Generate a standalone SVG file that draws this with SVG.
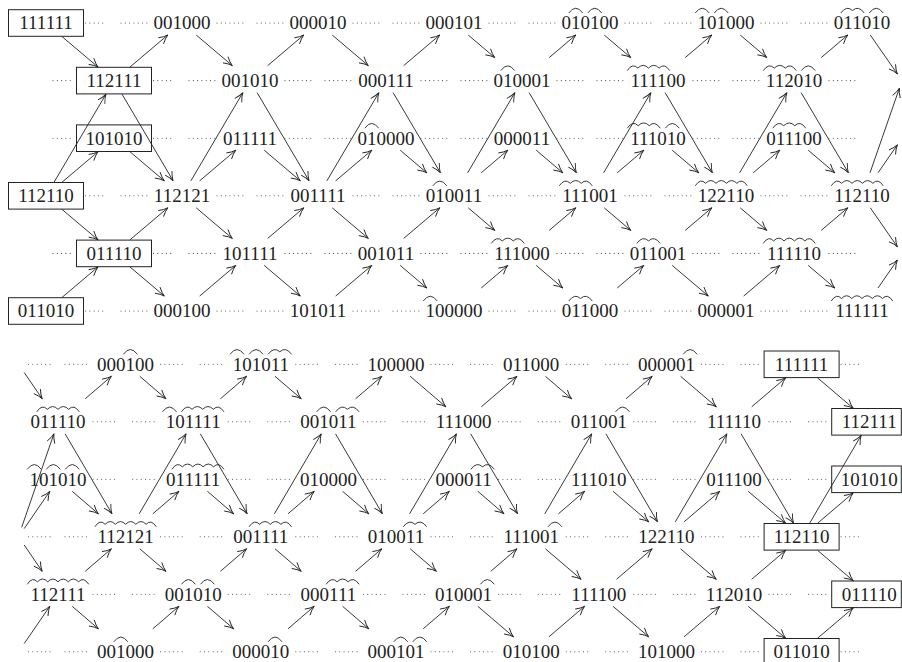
<svg xmlns="http://www.w3.org/2000/svg" width="902" height="662" viewBox="0 0 902 662">
<style>
.lbl{font-family:"Liberation Serif","Times New Roman",serif;font-size:19px;fill:#222;text-anchor:middle}
.box{fill:none;stroke:#222;stroke-width:1}
.ar{fill:none;stroke:#222;stroke-width:0.9;marker-end:url(#ah)}
.dot{fill:none;stroke:#444;stroke-width:1.1;stroke-linecap:round;stroke-dasharray:0.01 4.3}
</style>
<defs>
<marker id="ah" viewBox="-11 -6 12 12" refX="0" refY="0" markerWidth="12" markerHeight="12" markerUnits="userSpaceOnUse" orient="auto"><path d="M-9,-4 Q-4,-0.8 0,0 Q-4,0.8 -9,4" fill="none" stroke="#222" stroke-width="0.9"/></marker>
<path id="h1" d="M0,-10 q7,-9.5 14,0" fill="none" stroke="#222" stroke-width="0.9"/>
<path id="h2" d="M0,-10 q5.875,-8 11.75,-2.5 q5.875,-5.5 11.75,2.5" fill="none" stroke="#222" stroke-width="0.9"/>
<path id="h3" d="M0,-10 q5.5,-8 11,-2.5 q5.5,-5.5 11,0 q5.5,-5.5 11,2.5" fill="none" stroke="#222" stroke-width="0.9"/>
<path id="h4" d="M0,-10 q5.31,-8 10.625,-2.5 q5.31,-5.5 10.625,0 q5.31,-5.5 10.625,0 q5.31,-5.5 10.625,2.5" fill="none" stroke="#222" stroke-width="0.9"/>
<path id="h5" d="M0,-10 q5.2,-8 10.4,-2.5 q5.2,-5.5 10.4,0 q5.2,-5.5 10.4,0 q5.2,-5.5 10.4,0 q5.2,-5.5 10.4,2.5" fill="none" stroke="#222" stroke-width="0.9"/>
<path id="h6" d="M0,-10 q5.125,-8 10.25,-2.5 q5.125,-5.5 10.25,0 q5.125,-5.5 10.25,0 q5.125,-5.5 10.25,0 q5.125,-5.5 10.25,0 q5.125,-5.5 10.25,2.5" fill="none" stroke="#222" stroke-width="0.9"/>
</defs>

<g id="connectors">
<g id="dotted">
<path class="dot" d="M85.5,23H107M121,23H147M217,23H243M257,23H283M353,23H379M393,23H419M489,23H515M529,23H555M625,23H651M665,23H691M761,23H787M801,23H827"/>
<path class="dot" d="M85.5,195.8H107M121,195.8H147M217,195.8H243M257,195.8H283M353,195.8H379M393,195.8H419M489,195.8H515M529,195.8H555M625,195.8H651M665,195.8H691M761,195.8H787M801,195.8H827"/>
<path class="dot" d="M85.5,311H107M121,311H147M217,311H243M257,311H283M353,311H379M393,311H419M489,311H515M529,311H555M625,311H651M665,311H691M761,311H787M801,311H827"/>
<path class="dot" d="M53,80.6H74.5M153.5,80.6H175M189,80.6H215M285,80.6H311M325,80.6H351M421,80.6H447M461,80.6H487M557,80.6H583M597,80.6H623M693,80.6H719M733,80.6H759M829,80.6H855"/>
<path class="dot" d="M53,138.2H74.5M153.5,138.2H175M189,138.2H215M285,138.2H311M325,138.2H351M421,138.2H447M461,138.2H487M557,138.2H583M597,138.2H623M693,138.2H719M733,138.2H759M829,138.2H855"/>
<path class="dot" d="M53,253.4H74.5M153.5,253.4H175M189,253.4H215M285,253.4H311M325,253.4H351M421,253.4H447M461,253.4H487M557,253.4H583M597,253.4H623M693,253.4H719M733,253.4H759M829,253.4H855"/>
<path class="dot" d="M28.5,364.3H51M65,364.3H90.6M160.6,364.3H186.2M200.2,364.3H225.8M295.8,364.3H321.4M335.4,364.3H361M431,364.3H456.6M470.6,364.3H496.2M566.2,364.3H591.8M605.8,364.3H631.4M701.4,364.3H727M741,364.3H762.1M841.1,364.3H862.2"/>
<path class="dot" d="M28.5,536.8H51M65,536.8H90.6M160.6,536.8H186.2M200.2,536.8H225.8M295.8,536.8H321.4M335.4,536.8H361M431,536.8H456.6M470.6,536.8H496.2M566.2,536.8H591.8M605.8,536.8H631.4M701.4,536.8H727M741,536.8H762.1M841.1,536.8H862.2"/>
<path class="dot" d="M28.5,651.8H51M65,651.8H90.6M160.6,651.8H186.2M200.2,651.8H225.8M295.8,651.8H321.4M335.4,651.8H361M431,651.8H456.6M470.6,651.8H496.2M566.2,651.8H591.8M605.8,651.8H631.4M701.4,651.8H727M741,651.8H762.1M841.1,651.8H862.2"/>
<path class="dot" d="M93,421.8H118.6M132.6,421.8H158.2M228.2,421.8H253.8M267.8,421.8H293.4M363.4,421.8H389M403,421.8H428.6M498.6,421.8H524.2M538.2,421.8H563.8M633.8,421.8H659.4M673.4,421.8H699M769,421.8H794.6M808.6,421.8H829.7"/>
<path class="dot" d="M93,479.3H118.6M132.6,479.3H158.2M228.2,479.3H253.8M267.8,479.3H293.4M363.4,479.3H389M403,479.3H428.6M498.6,479.3H524.2M538.2,479.3H563.8M633.8,479.3H659.4M673.4,479.3H699M769,479.3H794.6M808.6,479.3H829.7"/>
<path class="dot" d="M93,594.3H118.6M132.6,594.3H158.2M228.2,594.3H253.8M267.8,594.3H293.4M363.4,594.3H389M403,594.3H428.6M498.6,594.3H524.2M538.2,594.3H563.8M633.8,594.3H659.4M673.4,594.3H699M769,594.3H794.6M808.6,594.3H829.7"/>
</g>
<g id="arrows-top">
<line class="ar" x1="61.9" y1="36.5" x2="98.1" y2="67.1"/>
<line class="ar" x1="196.2" y1="35" x2="232.3" y2="65.6"/>
<line class="ar" x1="332.2" y1="35" x2="368.3" y2="65.6"/>
<line class="ar" x1="468.2" y1="35" x2="494.8" y2="57.6"/>
<line class="ar" x1="604.2" y1="35" x2="630.8" y2="57.6"/>
<line class="ar" x1="740.2" y1="35" x2="766.8" y2="57.6"/>
<line class="ar" x1="870.3" y1="35" x2="897.4" y2="74"/>
<line class="ar" x1="129.9" y1="67.1" x2="167.8" y2="35"/>
<line class="ar" x1="267.7" y1="65.6" x2="303.8" y2="35"/>
<line class="ar" x1="403.7" y1="65.6" x2="439.8" y2="35"/>
<line class="ar" x1="549.2" y1="57.6" x2="575.8" y2="35"/>
<line class="ar" x1="685.2" y1="57.6" x2="711.8" y2="35"/>
<line class="ar" x1="821.2" y1="57.6" x2="847.8" y2="35"/>
<line class="ar" x1="122" y1="94.1" x2="173.1" y2="180.8"/>
<line class="ar" x1="257.1" y1="92.6" x2="309.1" y2="180.8"/>
<line class="ar" x1="393.1" y1="92.6" x2="440.4" y2="172.8"/>
<line class="ar" x1="529.1" y1="92.6" x2="576.4" y2="172.8"/>
<line class="ar" x1="665.1" y1="92.6" x2="712.4" y2="172.8"/>
<line class="ar" x1="801.1" y1="92.6" x2="848.4" y2="172.8"/>
<line class="ar" x1="129.9" y1="151.7" x2="164.3" y2="180.8"/>
<line class="ar" x1="264.2" y1="150.2" x2="300.3" y2="180.8"/>
<line class="ar" x1="400.2" y1="150.2" x2="426.8" y2="172.8"/>
<line class="ar" x1="536.2" y1="150.2" x2="562.8" y2="172.8"/>
<line class="ar" x1="672.2" y1="150.2" x2="698.8" y2="172.8"/>
<line class="ar" x1="808.2" y1="150.2" x2="834.8" y2="172.8"/>
<line class="ar" x1="54" y1="182.3" x2="106" y2="94.1"/>
<line class="ar" x1="190.9" y1="180.8" x2="242.9" y2="92.6"/>
<line class="ar" x1="326.9" y1="180.8" x2="378.9" y2="92.6"/>
<line class="ar" x1="467.6" y1="172.8" x2="514.9" y2="92.6"/>
<line class="ar" x1="603.6" y1="172.8" x2="650.9" y2="92.6"/>
<line class="ar" x1="739.6" y1="172.8" x2="786.9" y2="92.6"/>
<line class="ar" x1="870" y1="172.8" x2="899.4" y2="88.2"/>
<line class="ar" x1="61.9" y1="182.3" x2="98.1" y2="151.7"/>
<line class="ar" x1="199.7" y1="180.8" x2="235.8" y2="150.2"/>
<line class="ar" x1="335.7" y1="180.8" x2="371.8" y2="150.2"/>
<line class="ar" x1="481.2" y1="172.8" x2="507.8" y2="150.2"/>
<line class="ar" x1="617.2" y1="172.8" x2="643.8" y2="150.2"/>
<line class="ar" x1="753.2" y1="172.8" x2="779.8" y2="150.2"/>
<line class="ar" x1="878" y1="172.8" x2="897.4" y2="144.8"/>
<line class="ar" x1="61.9" y1="209.3" x2="98.1" y2="239.9"/>
<line class="ar" x1="196.2" y1="207.8" x2="232.3" y2="238.4"/>
<line class="ar" x1="332.2" y1="207.8" x2="368.3" y2="238.4"/>
<line class="ar" x1="468.2" y1="207.8" x2="494.8" y2="230.4"/>
<line class="ar" x1="604.2" y1="207.8" x2="630.8" y2="230.4"/>
<line class="ar" x1="740.2" y1="207.8" x2="766.8" y2="230.4"/>
<line class="ar" x1="870.3" y1="207.8" x2="897.4" y2="246.8"/>
<line class="ar" x1="129.9" y1="239.9" x2="167.8" y2="207.8"/>
<line class="ar" x1="267.7" y1="238.4" x2="303.8" y2="207.8"/>
<line class="ar" x1="403.7" y1="238.4" x2="439.8" y2="207.8"/>
<line class="ar" x1="549.2" y1="230.4" x2="575.8" y2="207.8"/>
<line class="ar" x1="685.2" y1="230.4" x2="711.8" y2="207.8"/>
<line class="ar" x1="821.2" y1="230.4" x2="847.8" y2="207.8"/>
<line class="ar" x1="129.9" y1="266.9" x2="164.3" y2="296"/>
<line class="ar" x1="264.2" y1="265.4" x2="300.3" y2="296"/>
<line class="ar" x1="400.2" y1="265.4" x2="426.8" y2="288"/>
<line class="ar" x1="536.2" y1="265.4" x2="562.8" y2="288"/>
<line class="ar" x1="672.2" y1="265.4" x2="708.3" y2="296"/>
<line class="ar" x1="808.2" y1="265.4" x2="834.8" y2="288"/>
<line class="ar" x1="61.9" y1="297.5" x2="98.1" y2="266.9"/>
<line class="ar" x1="199.7" y1="296" x2="235.8" y2="265.4"/>
<line class="ar" x1="335.7" y1="296" x2="371.8" y2="265.4"/>
<line class="ar" x1="481.2" y1="288" x2="507.8" y2="265.4"/>
<line class="ar" x1="617.2" y1="288" x2="643.8" y2="265.4"/>
<line class="ar" x1="743.7" y1="296" x2="779.8" y2="265.4"/>
<line class="ar" x1="878" y1="288" x2="897.4" y2="260"/>
</g>
<g id="arrows-bottom">
<line class="ar" x1="24.2" y1="372.5" x2="42.2" y2="398.8"/>
<line class="ar" x1="21.7" y1="527.3" x2="53.9" y2="433.8"/>
<line class="ar" x1="24.2" y1="528.6" x2="49.8" y2="491.3"/>
<line class="ar" x1="24.2" y1="545" x2="42.2" y2="571.3"/>
<line class="ar" x1="24.2" y1="643.6" x2="49.8" y2="606.3"/>
<line class="ar" x1="139.8" y1="376.3" x2="166" y2="398.8"/>
<line class="ar" x1="275" y1="376.3" x2="301.2" y2="398.8"/>
<line class="ar" x1="410.2" y1="376.3" x2="445.9" y2="406.8"/>
<line class="ar" x1="545.4" y1="376.3" x2="571.6" y2="398.8"/>
<line class="ar" x1="680.6" y1="376.3" x2="716.3" y2="406.8"/>
<line class="ar" x1="817.5" y1="377.8" x2="853.3" y2="408.3"/>
<line class="ar" x1="85.2" y1="398.8" x2="111.4" y2="376.3"/>
<line class="ar" x1="220.4" y1="398.8" x2="246.6" y2="376.3"/>
<line class="ar" x1="355.6" y1="398.8" x2="381.8" y2="376.3"/>
<line class="ar" x1="481.3" y1="406.8" x2="517" y2="376.3"/>
<line class="ar" x1="626" y1="398.8" x2="652.2" y2="376.3"/>
<line class="ar" x1="751.7" y1="406.8" x2="785.7" y2="377.8"/>
<line class="ar" x1="65.1" y1="433.8" x2="112" y2="513.8"/>
<line class="ar" x1="200.3" y1="433.8" x2="247.2" y2="513.8"/>
<line class="ar" x1="335.5" y1="433.8" x2="382.4" y2="513.8"/>
<line class="ar" x1="470.7" y1="433.8" x2="517.6" y2="513.8"/>
<line class="ar" x1="605.9" y1="433.8" x2="657.5" y2="521.8"/>
<line class="ar" x1="741.1" y1="433.8" x2="793.6" y2="523.3"/>
<line class="ar" x1="72.2" y1="491.3" x2="98.4" y2="513.8"/>
<line class="ar" x1="207.4" y1="491.3" x2="233.6" y2="513.8"/>
<line class="ar" x1="342.6" y1="491.3" x2="368.8" y2="513.8"/>
<line class="ar" x1="477.8" y1="491.3" x2="504" y2="513.8"/>
<line class="ar" x1="613" y1="491.3" x2="648.7" y2="521.8"/>
<line class="ar" x1="748.2" y1="491.3" x2="785.7" y2="523.3"/>
<line class="ar" x1="139.2" y1="513.8" x2="186.1" y2="433.8"/>
<line class="ar" x1="274.4" y1="513.8" x2="321.3" y2="433.8"/>
<line class="ar" x1="409.6" y1="513.8" x2="456.5" y2="433.8"/>
<line class="ar" x1="544.8" y1="513.8" x2="591.7" y2="433.8"/>
<line class="ar" x1="675.3" y1="521.8" x2="726.9" y2="433.8"/>
<line class="ar" x1="809.6" y1="523.3" x2="861.2" y2="435.3"/>
<line class="ar" x1="152.8" y1="513.8" x2="179" y2="491.3"/>
<line class="ar" x1="288" y1="513.8" x2="314.2" y2="491.3"/>
<line class="ar" x1="423.2" y1="513.8" x2="449.4" y2="491.3"/>
<line class="ar" x1="558.4" y1="513.8" x2="584.6" y2="491.3"/>
<line class="ar" x1="684.1" y1="521.8" x2="719.8" y2="491.3"/>
<line class="ar" x1="817.5" y1="523.3" x2="853.3" y2="492.8"/>
<line class="ar" x1="139.8" y1="548.8" x2="166" y2="571.3"/>
<line class="ar" x1="275" y1="548.8" x2="301.2" y2="571.3"/>
<line class="ar" x1="410.2" y1="548.8" x2="436.4" y2="571.3"/>
<line class="ar" x1="545.4" y1="548.8" x2="581.1" y2="579.3"/>
<line class="ar" x1="680.6" y1="548.8" x2="716.3" y2="579.3"/>
<line class="ar" x1="817.5" y1="550.3" x2="853.3" y2="580.8"/>
<line class="ar" x1="85.2" y1="571.3" x2="111.4" y2="548.8"/>
<line class="ar" x1="220.4" y1="571.3" x2="246.6" y2="548.8"/>
<line class="ar" x1="355.6" y1="571.3" x2="381.8" y2="548.8"/>
<line class="ar" x1="490.8" y1="571.3" x2="517" y2="548.8"/>
<line class="ar" x1="616.5" y1="579.3" x2="652.2" y2="548.8"/>
<line class="ar" x1="751.7" y1="579.3" x2="785.7" y2="550.3"/>
<line class="ar" x1="72.2" y1="606.3" x2="98.4" y2="628.8"/>
<line class="ar" x1="207.4" y1="606.3" x2="233.6" y2="628.8"/>
<line class="ar" x1="342.6" y1="606.3" x2="368.8" y2="628.8"/>
<line class="ar" x1="477.8" y1="606.3" x2="513.5" y2="636.8"/>
<line class="ar" x1="613" y1="606.3" x2="648.7" y2="636.8"/>
<line class="ar" x1="748.2" y1="606.3" x2="785.7" y2="638.3"/>
<line class="ar" x1="152.8" y1="628.8" x2="179" y2="606.3"/>
<line class="ar" x1="288" y1="628.8" x2="314.2" y2="606.3"/>
<line class="ar" x1="423.2" y1="628.8" x2="449.4" y2="606.3"/>
<line class="ar" x1="548.9" y1="636.8" x2="584.6" y2="606.3"/>
<line class="ar" x1="684.1" y1="636.8" x2="719.8" y2="606.3"/>
<line class="ar" x1="817.5" y1="638.3" x2="853.3" y2="607.8"/>
</g>
</g>

<g id="nodes-top">
<g id="n-t1-0"><rect class="box" x="8.5" y="9.7" width="75" height="26.6"/><text class="lbl" x="46" y="29.3">111111</text></g>
<g id="n-t1-2"><text class="lbl" x="182" y="29.3">001000</text></g>
<g id="n-t1-4"><text class="lbl" x="318" y="29.3">000010</text></g>
<g id="n-t1-6"><text class="lbl" x="454" y="29.3">000101</text></g>
<g id="n-t1-8"><text class="lbl" x="590" y="29.3">010100</text><use href="#h1" x="568.75" y="23"/><use href="#h1" x="587.75" y="23"/></g>
<g id="n-t1-10"><text class="lbl" x="726" y="29.3">101000</text><use href="#h1" x="695.25" y="23"/><use href="#h1" x="714.25" y="23"/></g>
<g id="n-t1-12"><text class="lbl" x="862" y="29.3">011010</text><use href="#h2" x="840.75" y="23"/><use href="#h1" x="869.25" y="23"/></g>

<g id="n-t2-1"><rect class="box" x="76.5" y="67.3" width="75" height="26.6"/><text class="lbl" x="114" y="86.9">112111</text></g>
<g id="n-t2-3"><text class="lbl" x="250" y="86.9">001010</text></g>
<g id="n-t2-5"><text class="lbl" x="386" y="86.9">000111</text></g>
<g id="n-t2-7"><text class="lbl" x="522" y="86.9">010001</text><use href="#h1" x="500.75" y="80.6"/></g>
<g id="n-t2-9"><text class="lbl" x="658" y="86.9">111100</text><use href="#h4" x="627.25" y="80.6"/></g>
<g id="n-t2-11"><text class="lbl" x="794" y="86.9">112010</text><use href="#h3" x="763.25" y="80.6"/><use href="#h1" x="801.25" y="80.6"/></g>

<g id="n-t3-1"><rect class="box" x="76.5" y="124.9" width="75" height="26.6"/><text class="lbl" x="114" y="144.5">101010</text></g>
<g id="n-t3-3"><text class="lbl" x="250" y="144.5">011111</text></g>
<g id="n-t3-5"><text class="lbl" x="386" y="144.5">010000</text><use href="#h1" x="364.75" y="138.2"/></g>
<g id="n-t3-7"><text class="lbl" x="522" y="144.5">000011</text></g>
<g id="n-t3-9"><text class="lbl" x="658" y="144.5">111010</text><use href="#h3" x="627.25" y="138.2"/><use href="#h1" x="665.25" y="138.2"/></g>
<g id="n-t3-11"><text class="lbl" x="794" y="144.5">011100</text><use href="#h3" x="772.75" y="138.2"/></g>

<g id="n-t4-0"><rect class="box" x="8.5" y="182.5" width="75" height="26.6"/><text class="lbl" x="46" y="202.1">112110</text></g>
<g id="n-t4-2"><text class="lbl" x="182" y="202.1">112121</text></g>
<g id="n-t4-4"><text class="lbl" x="318" y="202.1">001111</text></g>
<g id="n-t4-6"><text class="lbl" x="454" y="202.1">010011</text><use href="#h1" x="432.75" y="195.8"/></g>
<g id="n-t4-8"><text class="lbl" x="590" y="202.1">111001</text><use href="#h3" x="559.25" y="195.8"/></g>
<g id="n-t4-10"><text class="lbl" x="726" y="202.1">122110</text><use href="#h5" x="695.25" y="195.8"/></g>
<g id="n-t4-12"><text class="lbl" x="862" y="202.1">112110</text><use href="#h5" x="831.25" y="195.8"/></g>

<g id="n-t5-1"><rect class="box" x="76.5" y="240.1" width="75" height="26.6"/><text class="lbl" x="114" y="259.7">011110</text></g>
<g id="n-t5-3"><text class="lbl" x="250" y="259.7">101111</text></g>
<g id="n-t5-5"><text class="lbl" x="386" y="259.7">001011</text></g>
<g id="n-t5-7"><text class="lbl" x="522" y="259.7">111000</text><use href="#h3" x="491.25" y="253.4"/></g>
<g id="n-t5-9"><text class="lbl" x="658" y="259.7">011001</text><use href="#h2" x="636.75" y="253.4"/></g>
<g id="n-t5-11"><text class="lbl" x="794" y="259.7">111110</text><use href="#h5" x="763.25" y="253.4"/></g>

<g id="n-t6-0"><rect class="box" x="8.5" y="297.7" width="75" height="26.6"/><text class="lbl" x="46" y="317.3">011010</text></g>
<g id="n-t6-2"><text class="lbl" x="182" y="317.3">000100</text></g>
<g id="n-t6-4"><text class="lbl" x="318" y="317.3">101011</text></g>
<g id="n-t6-6"><text class="lbl" x="454" y="317.3">100000</text><use href="#h1" x="423.25" y="311"/></g>
<g id="n-t6-8"><text class="lbl" x="590" y="317.3">011000</text><use href="#h2" x="568.75" y="311"/></g>
<g id="n-t6-10"><text class="lbl" x="726" y="317.3">000001</text></g>
<g id="n-t6-12"><text class="lbl" x="862" y="317.3">111111</text><use href="#h6" x="831.25" y="311"/></g>
</g>

<g id="nodes-bottom">
<g id="n-b1-2"><text class="lbl" x="125.6" y="370.6">000100</text><use href="#h1" x="123.35" y="364.3"/></g>
<g id="n-b1-4"><text class="lbl" x="260.8" y="370.6">101011</text><use href="#h1" x="230.05" y="364.3"/><use href="#h1" x="249.05" y="364.3"/><use href="#h2" x="268.05" y="364.3"/></g>
<g id="n-b1-6"><text class="lbl" x="396" y="370.6">100000</text></g>
<g id="n-b1-8"><text class="lbl" x="531.2" y="370.6">011000</text></g>
<g id="n-b1-10"><text class="lbl" x="666.4" y="370.6">000001</text><use href="#h1" x="683.15" y="364.3"/></g>
<g id="n-b1-12"><rect class="box" x="764.1" y="351" width="75" height="26.6"/><text class="lbl" x="801.6" y="370.6">111111</text></g>

<g id="n-b2-1"><text class="lbl" x="58" y="428.1">011110</text><use href="#h4" x="36.75" y="421.8"/></g>
<g id="n-b2-3"><text class="lbl" x="193.2" y="428.1">101111</text><use href="#h1" x="162.45" y="421.8"/><use href="#h4" x="181.45" y="421.8"/></g>
<g id="n-b2-5"><text class="lbl" x="328.4" y="428.1">001011</text><use href="#h1" x="316.65" y="421.8"/><use href="#h2" x="335.65" y="421.8"/></g>
<g id="n-b2-7"><text class="lbl" x="463.6" y="428.1">111000</text></g>
<g id="n-b2-9"><text class="lbl" x="598.8" y="428.1">011001</text><use href="#h1" x="615.55" y="421.8"/></g>
<g id="n-b2-11"><text class="lbl" x="734" y="428.1">111110</text></g>
<g id="n-b2-13"><rect class="box" x="831.7" y="408.5" width="69.6" height="26.6"/><text class="lbl" x="869.2" y="428.1">112111</text></g>

<g id="n-b3-1"><text class="lbl" x="58" y="485.6">101010</text><use href="#h1" x="27.25" y="479.3"/><use href="#h1" x="46.25" y="479.3"/><use href="#h1" x="65.25" y="479.3"/></g>
<g id="n-b3-3"><text class="lbl" x="193.2" y="485.6">011111</text><use href="#h5" x="171.95" y="479.3"/></g>
<g id="n-b3-5"><text class="lbl" x="328.4" y="485.6">010000</text></g>
<g id="n-b3-7"><text class="lbl" x="463.6" y="485.6">000011</text><use href="#h2" x="470.85" y="479.3"/></g>
<g id="n-b3-9"><text class="lbl" x="598.8" y="485.6">111010</text></g>
<g id="n-b3-11"><text class="lbl" x="734" y="485.6">011100</text></g>
<g id="n-b3-13"><rect class="box" x="831.7" y="466" width="69.6" height="26.6"/><text class="lbl" x="869.2" y="485.6">101010</text></g>

<g id="n-b4-2"><text class="lbl" x="125.6" y="543.1">112121</text><use href="#h6" x="94.85" y="536.8"/></g>
<g id="n-b4-4"><text class="lbl" x="260.8" y="543.1">001111</text><use href="#h4" x="249.05" y="536.8"/></g>
<g id="n-b4-6"><text class="lbl" x="396" y="543.1">010011</text><use href="#h2" x="403.25" y="536.8"/></g>
<g id="n-b4-8"><text class="lbl" x="531.2" y="543.1">111001</text><use href="#h1" x="547.95" y="536.8"/></g>
<g id="n-b4-10"><text class="lbl" x="666.4" y="543.1">122110</text></g>
<g id="n-b4-12"><rect class="box" x="764.1" y="523.5" width="75" height="26.6"/><text class="lbl" x="801.6" y="543.1">112110</text></g>

<g id="n-b5-1"><text class="lbl" x="58" y="600.6">112111</text><use href="#h6" x="27.25" y="594.3"/></g>
<g id="n-b5-3"><text class="lbl" x="193.2" y="600.6">001010</text><use href="#h1" x="181.45" y="594.3"/><use href="#h1" x="200.45" y="594.3"/></g>
<g id="n-b5-5"><text class="lbl" x="328.4" y="600.6">000111</text><use href="#h3" x="326.15" y="594.3"/></g>
<g id="n-b5-7"><text class="lbl" x="463.6" y="600.6">010001</text><use href="#h1" x="480.35" y="594.3"/></g>
<g id="n-b5-9"><text class="lbl" x="598.8" y="600.6">111100</text></g>
<g id="n-b5-11"><text class="lbl" x="734" y="600.6">112010</text></g>
<g id="n-b5-13"><rect class="box" x="831.7" y="581" width="69.6" height="26.6"/><text class="lbl" x="869.2" y="600.6">011110</text></g>

<g id="n-b6-2"><text class="lbl" x="125.6" y="658.1">001000</text><use href="#h1" x="113.85" y="651.8"/></g>
<g id="n-b6-4"><text class="lbl" x="260.8" y="658.1">000010</text><use href="#h1" x="268.05" y="651.8"/></g>
<g id="n-b6-6"><text class="lbl" x="396" y="658.1">000101</text><use href="#h1" x="393.75" y="651.8"/><use href="#h1" x="412.75" y="651.8"/></g>
<g id="n-b6-8"><text class="lbl" x="531.2" y="658.1">010100</text></g>
<g id="n-b6-10"><text class="lbl" x="666.4" y="658.1">101000</text></g>
<g id="n-b6-12"><rect class="box" x="764.1" y="638.5" width="75" height="26.6"/><text class="lbl" x="801.6" y="658.1">011010</text></g>
</g>
</svg>
